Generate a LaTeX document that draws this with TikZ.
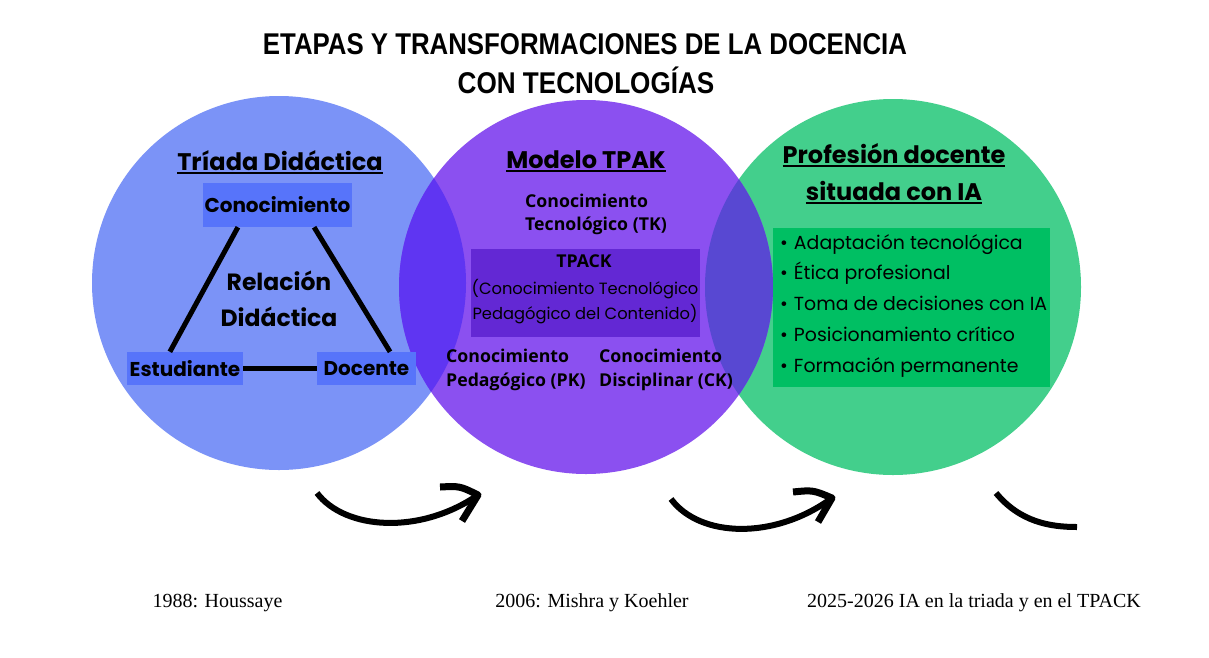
\documentclass[tikz,border=0pt]{standalone}
\usepackage{fontspec}
\setmainfont{Liberation Serif}
\newfontfamily\titlef{Liberation Sans}
\newfontfamily\popf{Poppins}
\newfontfamily\opf{Open Sans}
\usetikzlibrary{calc}
\definecolor{cblue}{HTML}{7B93F7}
\definecolor{cpurple}{HTML}{8B50F0}
\definecolor{cgreen}{HTML}{43CF8C}
\definecolor{cbp}{HTML}{5F35F2}
\definecolor{cpg}{HTML}{5848D2}
\definecolor{cbox}{HTML}{5774FA}
\definecolor{ctpack}{HTML}{6328D4}
\definecolor{cgbox}{HTML}{00BF63}
\newcommand\myul[1]{\setbox0=\hbox{#1}\leavevmode\rlap{\rule[-4pt]{\wd0}{2pt}}\box0}
\begin{document}
\begin{tikzpicture}[x=1pt,y=-1pt,
  boxlabel/.style={fill=cbox, inner sep=0pt, font=\popf\bfseries\fontsize{20}{22}\selectfont},
  heading/.style={font=\popf\bfseries\fontsize{24}{28}\selectfont, anchor=base},
  okbold/.style={font=\opf\bfseries\fontsize{17.7}{24}\selectfont, align=left, anchor=base west, inner sep=0pt},
  bullettext/.style={font=\popf\fontsize{18.9}{22}\selectfont, anchor=base west, inner sep=0pt},
  footer/.style={font=\fontsize{20}{24}\selectfont},
  brush/.style={line width=6pt, line join=round},
  triline/.style={line width=5pt}]
\useasboundingbox (0,0) rectangle (1209,657);
\fill[white] (0,0) rectangle (1209,657);

% circles
\fill[cblue] (279,283) circle (187pt);
\fill[cgreen] (893,287) circle (188pt);
\fill[cpurple] (586,287) circle (187pt);
\begin{scope}
  \clip (279,283) circle (187pt);
  \fill[cbp] (586,287) circle (187pt);
\end{scope}
\begin{scope}
  \clip (893,287) circle (188pt);
  \fill[cpg] (586,287) circle (187pt);
\end{scope}

% title
\node[font=\titlef\bfseries\fontsize{30}{36}\selectfont] (t1) at (585,44) {\scalebox{0.86}[1]{ETAPAS Y TRANSFORMACIONES DE LA DOCENCIA}};
\node[font=\titlef\bfseries\fontsize{30}{36}\selectfont] (t2) at (586,80) {\scalebox{0.87}[1]{CON TECNOLOGÍAS}};

% left circle: triad
\node[heading] (h1) at (280,170) {\myul{Tríada Didáctica}};
\node[boxlabel, minimum width=149pt, minimum height=44pt] (con) at (277.5,205) {Conocimiento};
\node[boxlabel, minimum width=116pt, minimum height=33pt] (est) at (185,368.5) {Estudiante};
\node[boxlabel, minimum width=99pt, minimum height=33pt] (doc) at (366.5,368.5) {Docente};
\draw[triline] ($(con.south west)!0.235!(con.south east)$) -- ($(est.north west)!0.37!(est.north east)$);
\draw[triline] ($(con.south west)!0.745!(con.south east)$) -- ($(doc.north west)!0.737!(doc.north east)$);
\draw[triline] (est.east) -- (doc.west);
\node[font=\popf\bfseries\fontsize{23.5}{36}\selectfont, align=center, anchor=base] (rel) at (279,326) {Relación\\Didáctica};

% middle circle: TPACK
\node[heading] (h2) at (586,168) {\myul{Modelo TPAK}};
\node[okbold, font=\opf\bfseries\fontsize{17.7}{23}\selectfont] (tk) at (525,230) {Conocimiento\\Tecnológico (TK)};
\fill[ctpack] (471,249) rectangle (700,337);
\node[font=\opf\bfseries\fontsize{17.7}{20}\selectfont, anchor=base] (tpack) at (584,267) {TPACK};
\node[font=\popf\fontsize{16.3}{25}\selectfont, align=center, anchor=base] (tpackd) at (585,319) {(Conocimiento Tecnológico\\Pedagógico del Contenido)};
\node[okbold] (pk) at (446,386) {Conocimiento\\Pedagógico (PK)};
\node[okbold] (ck) at (599,386) {Conocimiento\\Disciplinar (CK)};

% right circle
\node[heading] (h3) at (894,163) {\myul{Profesión docente}};
\node[heading] (h3b) at (894,200) {\myul{situada con IA}};
\fill[cgbox] (773,228) rectangle (1050,387);
\node[bullettext] (b1) at (780,249) {•\hspace{6pt}Adaptación tecnológica};
\node[bullettext] (b2) at (780,279.5) {•\hspace{6pt}Ética profesional};
\node[bullettext] (b3) at (780,310.5) {•\hspace{6pt}Toma de decisiones con IA};
\node[bullettext] (b4) at (780,341) {•\hspace{6pt}Posicionamiento crítico};
\node[bullettext] (b5) at (780,372) {•\hspace{6pt}Formación permanente};

% arrows
\coordinate (a1s) at (317,493);
\coordinate (a1t) at (478,495);
\coordinate (a1u) at (440,487);
\coordinate (a1l) at (462,521);
\draw[brush] (a1s) .. controls (345,530) and (420,535) .. (a1t);
\draw[brush, line width=7pt] (a1u) .. controls (460,486) .. (a1t) -- (a1l);
\coordinate (a2s) at (671,499);
\coordinate (a2t) at (832,498);
\coordinate (a2u) at (793,492);
\coordinate (a2l) at (818,522);
\draw[brush] (a2s) .. controls (700,538) and (775,540) .. (a2t);
\draw[brush, line width=7pt] (a2u) .. controls (813,490) .. (a2t) -- (a2l);
\coordinate (a3s) at (996,493);
\coordinate (a3e) at (1077,527);
\draw[brush] (a3s) .. controls (1020,522) and (1050,527) .. (a3e);

% footer
\node[footer] (f1) at (217.5,603) {1988: Houssaye};
\node[footer] (f2) at (592,603) {2006: Mishra y Koehler};
\node[footer] (f3) at (974,603) {2025-2026 IA en la triada y en el TPACK};
\end{tikzpicture}
\end{document}
